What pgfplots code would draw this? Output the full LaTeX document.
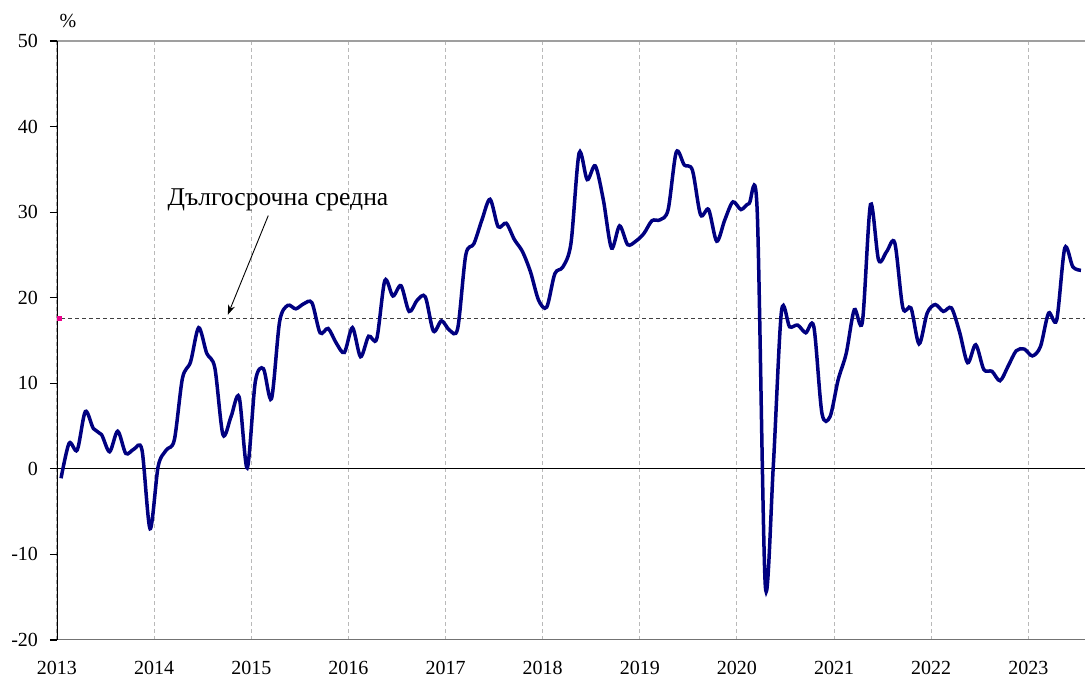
\documentclass[border=0pt]{standalone}
\usepackage{fontspec}
\setmainfont{Liberation Serif}
\usepackage{pgfplots}
\pgfplotsset{compat=1.18}
\usepackage{pgfplotstable}
\usetikzlibrary{arrows.meta}
\definecolor{navyline}{RGB}{0,0,128}
\definecolor{avgline}{RGB}{64,64,64}

% monthly values, Jan 2013 ... Jul 2023
\pgfplotstableread{
v
-1.1
3.0
2.2
6.7
4.7
4.0
2.0
4.4
1.8
2.3
2.2
-7.0
0.3
2.2
3.4
10.6
12.5
16.5
13.5
11.8
4.0
6.1
8.4
0.1
10.2
11.7
8.2
17.2
19.1
18.7
19.3
19.4
15.9
16.4
14.7
13.6
16.5
13.1
15.5
15.2
22.0
20.2
21.4
18.4
19.7
20.1
16.1
17.3
16.2
16.4
25.0
26.3
29.1
31.5
28.3
28.7
26.8
25.4
23.0
19.7
18.9
22.8
23.6
26.4
36.9
33.8
35.4
31.4
25.8
28.4
26.2
26.6
27.5
29.0
29.1
30.3
37.0
35.5
34.9
29.7
30.3
26.6
29.1
31.2
30.3
31.0
30.2
-13.6
0.5
18.4
16.6
16.8
15.9
16.6
6.5
6.1
10.4
13.5
18.6
17.2
30.9
24.4
25.4
26.4
18.8
18.8
14.6
18.2
19.2
18.4
18.8
16.0
12.4
14.5
11.6
11.4
10.3
12.0
13.8
14.0
13.2
14.3
18.2
17.4
25.8
23.6
23.2
}\datatable

\begin{document}
\begin{tikzpicture}
\begin{axis}[
  scale only axis,
  width=514pt, height=299.5pt,
  xmin=0, xmax=127, ymin=-20, ymax=50,
  axis line style={draw=none},
  xtick={0,12,...,120},
  xticklabels={2013,2014,2015,2016,2017,2018,2019,2020,2021,2022,2023},
  ytick={-20,-10,...,50},
  yticklabels={-20,-10,0,10,20,30,40,50},
  xtick style={draw=none},
  ytick style={black, line width=0.6pt},
  ytick pos=left,
  tick align=outside,
  major tick length=3.5pt,
  xmajorgrids,
  major x grid style={gray!55, line width=0.5pt, dash pattern=on 2pt off 1.5pt},
  tick label style={font=\fontsize{10}{12}\selectfont, black},
  xticklabel style={yshift=-3.5pt},
  yticklabel style={xshift=-2.5pt},
  clip=true,
]
% borders
\draw[gray!75, line width=0.7pt] (rel axis cs:0,1) -- (rel axis cs:1,1);
\draw[gray!90!black, line width=0.7pt] (rel axis cs:0,0) -- (rel axis cs:1,0);
\draw[black, line width=0.6pt] (rel axis cs:0,0) -- (rel axis cs:0,1);
\draw[black, line width=0.5pt] (axis cs:0,0) -- (axis cs:127,0);

% long-term average
\addplot[avgline, line width=0.6pt, dash pattern=on 2pt off 1.5pt] coordinates {(0.5,17.6) (127,17.6)};
\addplot[only marks, mark=square*, mark size=0.9pt, magenta] coordinates {(0.3,17.6)};

% series
\addplot[navyline, line width=1.75pt, smooth, tension=0.5] table[x expr=\coordindex+0.5, y=v] {\datatable};

% annotation
\node[font=\fontsize{12.8}{15}\selectfont] at (axis cs:27.3,31.4) {Дългосрочна средна};
\draw[black, line width=0.45pt, -{Stealth[length=5pt, width=3.5pt]}] (axis cs:26.1,29.6) -- (axis cs:21.1,18.0);
\end{axis}
\node[font=\fontsize{10}{12}\selectfont] at ([xshift=5.5pt, yshift=10pt]current axis.north west) {\%};
\pgfresetboundingbox
\path (-28.5pt,-19.5pt) rectangle (514pt,320pt);
\end{tikzpicture}
\end{document}
